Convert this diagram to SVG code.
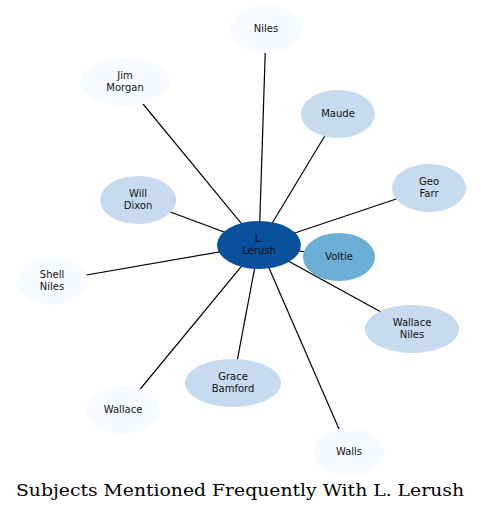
<svg xmlns="http://www.w3.org/2000/svg" width="481" height="512" viewBox="0 0 481 512">
<style>
.e{stroke:#000;stroke-width:1.2;fill:none}
.n text{font-family:"DejaVu Sans",sans-serif;font-size:10px;fill:#111;text-anchor:middle}
.w{fill:#f7fbff}.l{fill:#c6dbef}.m{fill:#6baed6}.d{fill:#08519c}
.t{font-family:"DejaVu Serif","Liberation Serif",serif;font-size:17px;fill:#000;text-anchor:middle}
</style>
<rect width="481" height="512" fill="#fff"/>
<g id="edges">
<line class="e" x1="259" y1="245" x2="266" y2="29"/>
<line class="e" x1="259" y1="245" x2="125" y2="82"/>
<line class="e" x1="259" y1="245" x2="338" y2="114"/>
<line class="e" x1="259" y1="245" x2="429" y2="188"/>
<line class="e" x1="259" y1="245" x2="138" y2="200"/>
<line class="e" x1="259" y1="245" x2="52" y2="281"/>
<line class="e" x1="259" y1="245" x2="339" y2="257"/>
<line class="e" x1="259" y1="245" x2="412" y2="329"/>
<line class="e" x1="259" y1="245" x2="233" y2="383"/>
<line class="e" x1="259" y1="245" x2="123" y2="410"/>
<line class="e" x1="259" y1="245" x2="349" y2="452"/>
</g>
<g id="niles" class="n"><ellipse class="w" cx="266" cy="29" rx="36" ry="24"/><text x="266" y="32">Niles</text></g>
<g id="jim-morgan" class="n"><ellipse class="w" cx="125" cy="82" rx="45" ry="24"/><text x="125" y="79">Jim</text><text x="125" y="91">Morgan</text></g>
<g id="maude" class="n"><ellipse class="l" cx="338" cy="114" rx="37" ry="24"/><text x="338" y="117">Maude</text></g>
<g id="geo-farr" class="n"><ellipse class="l" cx="429" cy="188" rx="37" ry="24"/><text x="429" y="185">Geo</text><text x="429" y="197">Farr</text></g>
<g id="will-dixon" class="n"><ellipse class="l" cx="138" cy="200" rx="38" ry="24"/><text x="138" y="197">Will</text><text x="138" y="209">Dixon</text></g>
<g id="shell-niles" class="n"><ellipse class="w" cx="52" cy="281" rx="36" ry="24"/><text x="52" y="278">Shell</text><text x="52" y="290">Niles</text></g>
<g id="l-lerush" class="n"><ellipse class="d" cx="259" cy="245" rx="42" ry="24"/><text x="259" y="242">L.</text><text x="259" y="254">Lerush</text></g>
<g id="voltie" class="n"><ellipse class="m" cx="339" cy="257" rx="36" ry="24"/><text x="339" y="260">Voltie</text></g>
<g id="wallace-niles" class="n"><ellipse class="l" cx="412" cy="329" rx="47" ry="24"/><text x="412" y="326">Wallace</text><text x="412" y="338">Niles</text></g>
<g id="grace-bamford" class="n"><ellipse class="l" cx="233" cy="383" rx="48" ry="24"/><text x="233" y="380">Grace</text><text x="233" y="392">Bamford</text></g>
<g id="wallace" class="n"><ellipse class="w" cx="123" cy="410" rx="37" ry="24"/><text x="123" y="413">Wallace</text></g>
<g id="walls" class="n"><ellipse class="w" cx="349" cy="452" rx="36" ry="24"/><text x="349" y="455">Walls</text></g>
<text class="t" x="240" y="496" textLength="448" lengthAdjust="spacingAndGlyphs">Subjects Mentioned Frequently With L. Lerush</text>
</svg>
